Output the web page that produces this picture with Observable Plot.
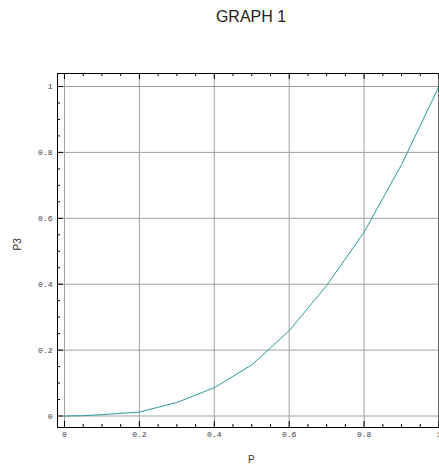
<!DOCTYPE html>
<html>
<head>
<meta charset="utf-8">
<script src="https://cdn.jsdelivr.net/npm/d3@7"></script>
<script src="https://cdn.jsdelivr.net/npm/@observablehq/plot@0.6"></script>
<style>
  html, body { margin: 0; padding: 0; background: #fff; }
  #title { width: 439px; height: 30px; box-sizing: border-box; padding-left: 63px; text-align: center;
    font-family: "Liberation Sans", Arial, sans-serif; font-size: 16px; line-height: 34px; color: #222; }
</style>
</head>
<body>
<div id="title">GRAPH 1</div>
<div id="chart"></div>
<script>
// Data
const pValues  = [0, 0.05, 0.1, 0.2, 0.3, 0.4, 0.5, 0.6, 0.7, 0.8, 0.9, 1.0];
const p3Values = [0, 0.001, 0.004, 0.012, 0.041, 0.086, 0.155, 0.259, 0.396, 0.558, 0.763, 1.0];

// Tick labels
const xMajor = [0, 0.2, 0.4, 0.6, 0.8, 1];
const yMajor = [0, 0.2, 0.4, 0.6, 0.8, 1];
const xLabels = ["0", "0.2", "0.4", "0.6", "0.8", "1"];
const yLabels = ["0", "0.2", "0.4", "0.6", "0.8", "1"];
const minorTicks = [0.05, 0.1, 0.15, 0.25, 0.3, 0.35, 0.45, 0.5, 0.55, 0.65, 0.7, 0.75, 0.85, 0.9, 0.95];

const data = pValues.map((p, i) => ({p, P3: p3Values[i]}));

const W = 439, H = 435;
const mL = 57, mR = 0.5, mT = 43, mB = 38;
const fw = W - mL - mR, fh = H - mT - mB;

const labelFont = {fontFamily: "'Liberation Mono', 'DejaVu Sans Mono', monospace", fontSize: 8, fill: "#3a3a4a"};

const chart = Plot.plot({
  width: W, height: H,
  marginLeft: mL, marginRight: mR, marginTop: mT, marginBottom: mB,
  x: {domain: [0, 1], insetLeft: 7, axis: null},
  y: {domain: [0, 1], insetTop: 13, insetBottom: 11.5, axis: null},
  style: {background: "#fff"},
  marks: [
    Plot.ruleX(xMajor, {x: d => d, stroke: "#a0a0a0", strokeWidth: 1}),
    Plot.ruleY(yMajor, {y: d => d, stroke: "#a0a0a0", strokeWidth: 1}),
    Plot.line(data, {x: "p", y: "P3", stroke: "#2f9a9a", strokeWidth: 1}),
    Plot.frame({stroke: "#000", strokeWidth: 1}),
    // bottom ticks
    Plot.tickX(xMajor, {x: d => d, insetTop: fh - 6, stroke: "#000"}),
    Plot.tickX(minorTicks, {x: d => d, insetTop: fh - 3, stroke: "#000"}),
    // top ticks
    Plot.tickX(xMajor, {x: d => d, insetBottom: fh - 6, stroke: "#000"}),
    Plot.tickX(minorTicks, {x: d => d, insetBottom: fh - 3, stroke: "#000"}),
    // left ticks
    Plot.tickY(yMajor, {y: d => d, insetRight: fw - 6, stroke: "#000"}),
    Plot.tickY(minorTicks, {y: d => d, insetRight: fw - 3, stroke: "#000"}),
    // tick labels
    Plot.text(xMajor, {x: d => d, text: (d, i) => xLabels[i], frameAnchor: "bottom", dy: 7, lineAnchor: "middle", textAnchor: "middle", ...labelFont, letterSpacing: "0.6px"}),
    Plot.text(yMajor, {y: d => d, text: (d, i) => yLabels[i], frameAnchor: "left", dx: -5, textAnchor: "end", lineAnchor: "middle", ...labelFont, letterSpacing: "0.6px"}),
    // axis labels
    Plot.text(["P3"], {text: d => d, frameAnchor: "left", dx: -40, rotate: -90, fontFamily: "'Liberation Sans', Arial, sans-serif", fontSize: 10, fill: "#333"}),
    Plot.text(["P"], {text: d => d, frameAnchor: "bottom", dx: 3, dy: 32, lineAnchor: "middle", fontFamily: "'Liberation Sans', Arial, sans-serif", fontSize: 10, fill: "#333"})
  ]
});
document.getElementById("chart").appendChild(chart);
</script>
</body>
</html>
